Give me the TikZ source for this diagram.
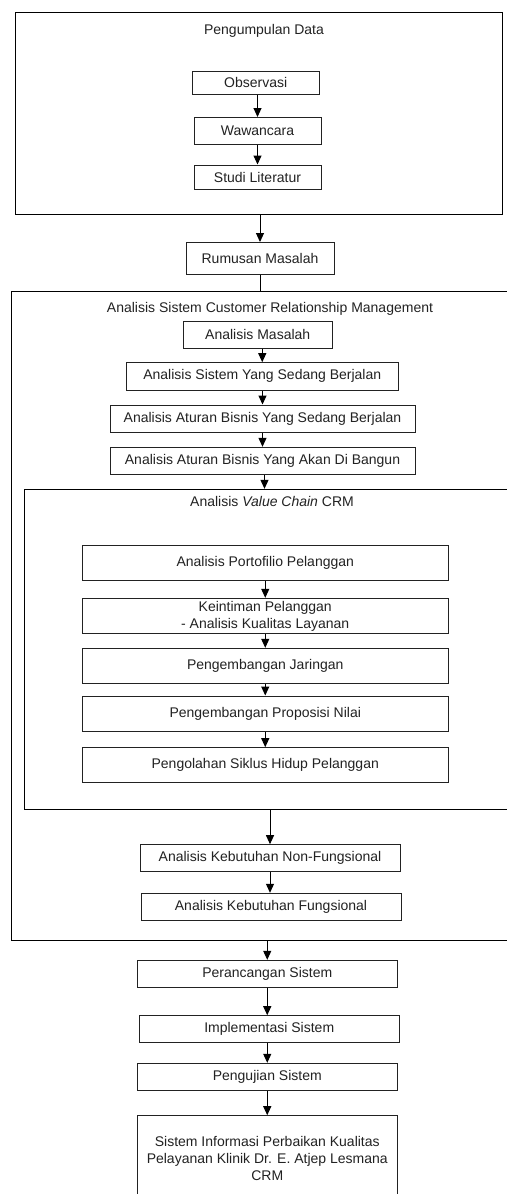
\documentclass[tikz,border=0pt]{standalone}
\usepackage{fontspec}
\setmainfont{Liberation Sans}
\usetikzlibrary{arrows.meta}
\definecolor{ink}{HTML}{222222}
\tikzset{
  box/.style={draw=ink, line width=1pt, fill=white, inner sep=0pt, text=ink, font=\fontsize{14}{16.8}\selectfont, align=center},
  container/.style={draw=black, line width=1pt, inner sep=0pt},
  txt/.style={inner sep=0pt, text=ink, font=\fontsize{14}{17}\selectfont, align=center},
  arr/.style={draw=black, line width=1pt, -{Triangle[length=9pt,width=8pt]}},
  ln/.style={draw=black, line width=1pt}
}
\begin{document}
\begin{tikzpicture}[x=1pt,y=-1pt]
\useasboundingbox (0,0) rectangle (506,1194);
% containers
\node[container, minimum width=487pt, minimum height=201.7pt] (g1) at (258.5,113.15) {};
\node[container, minimum width=508.5pt, minimum height=648.6pt] (g2) at (265.75,616) {};
\node[container, fill=white, minimum width=496pt, minimum height=320pt] (g3) at (272,649.3) {};
% titles
\node[txt] (t1) at (264,31) {Pengumpulan Data};
\node[txt] (t2) at (270,309.3) {Analisis Sistem Customer Relationship Management};
\node[txt] (t3) at (272,501) {Analisis \textit{Value Chain} CRM};
% group 1
\node[box, minimum width=126.5pt, minimum height=23pt] (obs) at (255.75,82.5) {Observasi};
\node[box, minimum width=127pt, minimum height=27pt] (waw) at (257.5,131) {Wawancara};
\node[box, minimum width=127pt, minimum height=24pt] (stu) at (257.5,177) {Studi Literatur};
\node[box, minimum width=148pt, minimum height=31.5pt] (rum) at (260,258.25) {Rumusan Masalah};
% group 2
\node[box, minimum width=148.5pt, minimum height=27pt] (am) at (257.75,334.5) {Analisis Masalah};
\node[box, minimum width=272.5pt, minimum height=27.3pt] (ass) at (262.25,376.35) {Analisis Sistem Yang Sedang Berjalan};
\node[box, minimum width=305pt, minimum height=27pt] (ab1) at (262.5,418.5) {Analisis Aturan Bisnis Yang Sedang Berjalan};
\node[box, minimum width=305pt, minimum height=26.7pt] (ab2) at (262.5,460.65) {Analisis Aturan Bisnis Yang Akan Di Bangun};
% group 3
\node[box, minimum width=365.5pt, minimum height=34.6pt] (vc1) at (265.25,563) {Analisis Portofilio Pelanggan};
\node[box, minimum width=365.5pt, minimum height=35.4pt] (vc2) at (265.25,616) {Keintiman Pelanggan\\- Analisis Kualitas Layanan};
\node[box, minimum width=365.5pt, minimum height=35pt] (vc3) at (265.25,665.8) {Pengembangan Jaringan};
\node[box, minimum width=365.5pt, minimum height=35pt] (vc4) at (265.25,713.5) {Pengembangan Proposisi Nilai};
\node[box, minimum width=365.5pt, minimum height=35pt] (vc5) at (265.25,765.2) {Pengolahan Siklus Hidup Pelanggan};
% after group 3
\node[box, minimum width=260pt, minimum height=26.6pt] (nf) at (270,858) {Analisis Kebutuhan Non-Fungsional};
\node[box, minimum width=260pt, minimum height=27.4pt] (fu) at (271,907) {Analisis Kebutuhan Fungsional};
% after group 2
\node[box, minimum width=260.5pt, minimum height=27pt] (per) at (267.25,973.8) {Perancangan Sistem};
\node[box, minimum width=260.5pt, minimum height=26.6pt] (imp) at (269.25,1029) {Implementasi Sistem};
\node[box, minimum width=260.5pt, minimum height=26.7pt] (uji) at (267.25,1076.65) {Pengujian Sistem};
\node[box, minimum width=260.5pt, minimum height=114.3pt] (fin) at (267.25,1172.85) {};
\node[txt] (fint) at (267.25,1158.3) {Sistem Informasi Perbaikan Kualitas\\Pelayanan Klinik Dr. E. Atjep Lesmana\\CRM};
% connectors
\draw[arr] (waw.north |- obs.south) -- (waw.north);
\draw[arr] (stu.north |- waw.south) -- (stu.north);
\draw[arr] (rum.north |- g1.south) -- (rum.north);
\draw[ln] (rum.south) -- (rum.south |- g2.north);
\draw[arr] (ass.north |- am.south) -- (ass.north);
\draw[arr] (ab1.north |- ass.south) -- (ab1.north);
\draw[arr] (ab2.north |- ab1.south) -- (ab2.north);
\draw[arr] ([xshift=2pt]ab2.south) -- ([xshift=2pt]ab2.south |- g3.north);
\draw[arr] (vc1.south) -- (vc2.north);
\draw[arr] (vc2.south) -- (vc3.north);
\draw[arr] (vc3.south) -- (vc4.north);
\draw[arr] (vc4.south) -- (vc5.north);
\draw[arr] (nf.north |- g3.south) -- (nf.north);
\draw[arr] (nf.south) -- (nf.south |- fu.north);
\draw[arr] (per.north |- g2.south) -- (per.north);
\draw[arr] (per.south) -- (per.south |- imp.north);
\draw[arr] (uji.north |- imp.south) -- (uji.north);
\draw[arr] (uji.south) -- (uji.south |- fin.north);
\end{tikzpicture}
\end{document}
